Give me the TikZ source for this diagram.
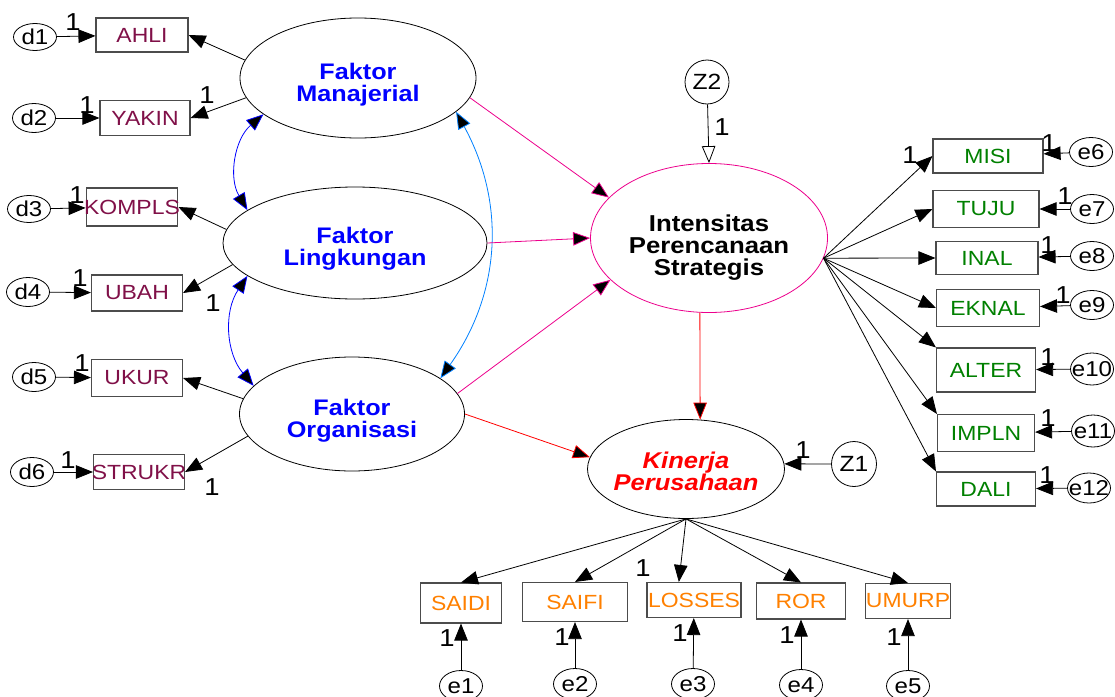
\documentclass[tikz,border=0pt]{standalone}
\usepackage{fontspec}
\setmainfont{Liberation Sans}[FakeStretch=1.12]
\usetikzlibrary{arrows.meta,shapes.geometric}
\definecolor{indleft}{RGB}{128,16,72}
\definecolor{indright}{RGB}{0,128,0}
\definecolor{indbottom}{RGB}{255,128,0}
\definecolor{covlight}{RGB}{0,128,255}
\tikzset{
  obs/.style={draw=black!70,line width=1.1pt,inner xsep=-2pt,inner ysep=0pt,font=\fontsize{20.5}{21}\selectfont},
  lat/.style={ellipse,draw,line width=0.8pt,inner sep=0pt,align=center,font=\fontsize{22.5}{21.5}\selectfont\bfseries},
  err/.style={ellipse,draw,line width=0.8pt,inner xsep=-7pt,inner ysep=-1pt,minimum width=43pt,minimum height=29pt,font=\fontsize{21.5}{21}\selectfont},
  res/.style={circle,draw,line width=0.8pt,inner sep=0pt,minimum size=44pt,font=\fontsize{22}{22}\selectfont},
  one/.style={inner sep=0pt,font=\fontsize{24.5}{24}\selectfont},
  path/.style={line width=0.8pt,-{Triangle[fill=black,length=17pt,width=13.5pt]}},
  cov/.style={line width=0.8pt,{Triangle[fill=black,length=17pt,width=13.5pt]}-{Triangle[fill=black,length=17pt,width=13.5pt]}}
}
\begin{document}
\begin{tikzpicture}[x=1pt,y=1pt]
\useasboundingbox (0,0) rectangle (1115,-696);

\node[lat,minimum width=236pt,minimum height=120pt,text=blue] (man) at (358,-78) {\rule{0pt}{30pt}Faktor\\Manajerial};
\node[lat,minimum width=264pt,minimum height=112pt,text=blue] (ling) at (355,-243) {\rule{0pt}{28pt}Faktor\\Lingkungan};
\node[lat,minimum width=225pt,minimum height=114pt,text=blue] (org) at (352,-414) {\rule{0pt}{30pt}Faktor\\Organisasi};
\node[lat,draw=magenta,minimum width=237pt,minimum height=149pt,font=\fontsize{23}{22}\selectfont\bfseries] (int) at (709,-238) {\rule{0pt}{35pt}Intensitas\\Perencanaan\\Strategis};
\node[lat,inner xsep=-5pt,minimum width=197pt,minimum height=99pt,text=red,font=\fontsize{22.8}{22}\selectfont\bfseries\itshape] (kin) at (686,-469) {\rule{0pt}{21pt}Kinerja\\Perusahaan};
\node[res] (z2) at (707,-82) {Z2};
\node[res,minimum size=45pt] (z1) at (854,-464) {Z1};

\node[obs,text=indleft,minimum width=92pt,minimum height=34pt] (ahli) at (142,-35) {AHLI};
\node[obs,text=indleft,minimum width=90pt,minimum height=35pt] (yakin) at (145,-118) {YAKIN};
\node[obs,text=indleft,minimum width=91pt,minimum height=38pt] (kompls) at (132,-207) {KOMPLS};
\node[obs,text=indleft,minimum width=91pt,minimum height=36pt] (ubah) at (137,-293) {UBAH};
\node[obs,text=indleft,minimum width=91pt,minimum height=37pt] (ukur) at (137,-378) {UKUR};
\node[obs,text=indleft,minimum width=91pt,minimum height=35pt] (strukr) at (139,-472) {STRUKR};

\node[err,minimum height=27pt] (d1) at (35,-37) {d1};
\node[err] (d2) at (34,-118) {d2};
\node[err,minimum height=27pt] (d3) at (29,-209) {d3};
\node[err] (d4) at (28,-292) {d4};
\node[err] (d5) at (34,-377) {d5};
\node[err] (d6) at (32,-472) {d6};

\node[obs,text=indright,minimum width=110pt,minimum height=34pt] (misi) at (988,-156) {MISI};
\node[obs,text=indright,minimum width=106pt,minimum height=37pt] (tuju) at (986,-209) {TUJU};
\node[obs,text=indright,minimum width=102pt,minimum height=33pt] (inal) at (987,-258) {INAL};
\node[obs,text=indright,minimum width=103pt,minimum height=37pt] (eknal) at (988,-308) {EKNAL};
\node[obs,text=indright,minimum width=99pt,minimum height=44pt] (alter) at (986,-370) {ALTER};
\node[obs,text=indright,minimum width=97pt,minimum height=37pt] (impln) at (986,-433) {IMPLN};
\node[obs,text=indright,minimum width=99pt,minimum height=34pt] (dali) at (986,-489) {DALI};

\node[err] (e6) at (1091,-152) {e6};
\node[err] (e7) at (1092,-209) {e7};
\node[err] (e8) at (1092,-256) {e8};
\node[err] (e9) at (1092,-305) {e9};
\node[err,minimum height=32pt] (e10) at (1092,-369) {e10};
\node[err,minimum height=32pt] (e11) at (1093,-431) {e11};
\node[err,minimum height=30pt] (e12) at (1089,-488) {e12};

\node[obs,text=indbottom,minimum width=81pt,minimum height=40pt] (saidi) at (461,-603) {SAIDI};
\node[obs,text=indbottom,minimum width=105pt,minimum height=39pt] (saifi) at (575,-602) {SAIFI};
\node[obs,text=indbottom,minimum width=94pt,minimum height=35pt] (losses) at (694,-600) {LOSSES};
\node[obs,text=indbottom,minimum width=89pt,minimum height=36pt] (ror) at (801,-601) {ROR};
\node[obs,text=indbottom,minimum width=85pt,minimum height=35pt] (umurp) at (908,-601) {UMURP};

\node[err,minimum height=31pt] (e1) at (461,-686) {e1};
\node[err,minimum height=31pt] (e2) at (575,-684) {e2};
\node[err,minimum height=31pt] (e3) at (693,-684) {e3};
\node[err,minimum height=31pt] (e4) at (801,-685) {e4};
\node[err,minimum height=31pt] (e5) at (908,-686) {e5};

\draw[path] (d1) -- (ahli);
\draw[path] (d2) -- (yakin);
\draw[path] (d3) -- (kompls);
\draw[path] (d4) -- (ubah);
\draw[path] (d5) -- (ukur);
\draw[path] (d6) -- (strukr);

\draw[path] (man.171) -- (ahli.east);
\draw[path] (man.190) -- (yakin.east);
\draw[path] (ling.174) -- (kompls.east);
\draw[path] (ling.190) -- (ubah.east);
\draw[path] (org.172) -- (ukur.east);
\draw[path] (org.192) -- (strukr.east);

\draw[cov,blue] (man.201) to[bend right=40] (ling.163);
\draw[cov,blue] (ling.197) to[bend right=37] (org.164);
\draw[cov,covlight] (man.-19) to[bend left=32] (org.22);

\draw[path,magenta] (man.-10) -- (int.158);
\draw[path,magenta] (ling.east) -- (int.west);
\draw[path,magenta] (org.11) -- (int.203);
\draw[path,red] (org.east) -- (kin.173);
\draw[path,red] (int.263) -- (kin.74);
\draw[line width=0.8pt,-{Triangle[open,fill=white,length=17pt,width=13.5pt]}] (z2) -- (int.north);
\draw[path] (z1) -- (kin.3);

\draw[path] (int.-10) -- (misi.west);
\draw[path] (int.-10) -- (tuju.west);
\draw[path] (int.-10) -- (inal.west);
\draw[path] (int.-10) -- (eknal.west);
\draw[path] (int.-10) -- (alter.north west);
\draw[path] (int.-10) -- (impln.north west);
\draw[path] (int.-10) -- (dali.north west);

\draw[path] (e6) -- (misi);
\draw[path] (e7) -- (tuju);
\draw[path] (e8) -- (inal);
\draw[path] (e9) -- (eknal);
\draw[path] (e10) -- (alter);
\draw[path] (e11) -- (impln);
\draw[path] (e12) -- (dali);

\draw[path] (kin.south) -- (saidi.north);
\draw[path] (kin.south) -- (saifi.north);
\draw[path] (kin.south) -- (losses.130);
\draw[path] (kin.south) -- (ror.north);
\draw[path] (kin.south) -- (umurp.north);

\draw[path] (e1) -- (saidi);
\draw[path] (e2) -- (saifi);
\draw[path] (e3) -- (losses);
\draw[path] (e4) -- (ror);
\draw[path] (e5) -- (umurp);

\node[one] (o1) at (73,-22) {1};
\node[one] (o2) at (87,-105) {1};
\node[one] (o3) at (77,-195) {1};
\node[one] (o4) at (80,-278) {1};
\node[one] (o5) at (82,-363) {1};
\node[one] (o6) at (68,-460) {1};
\node[one] (o7) at (207,-95) {1};
\node[one] (o8) at (213,-303) {1};
\node[one] (o9) at (212,-487) {1};
\node[one] (o10) at (722,-127) {1};
\node[one] (o11) at (803,-450) {1};
\node[one] (o12) at (910,-155) {1};
\node[one] (o13) at (1049,-143) {1};
\node[one] (o14) at (1065,-196) {1};
\node[one] (o15) at (1048,-245) {1};
\node[one] (o16) at (1063,-295) {1};
\node[one] (o17) at (1048,-357) {1};
\node[one] (o18) at (1048,-418) {1};
\node[one] (o19) at (1047,-475) {1};
\node[one] (o20) at (643,-568) {1};
\node[one] (o21) at (447,-638) {1};
\node[one] (o22) at (562,-637) {1};
\node[one] (o23) at (680,-633) {1};
\node[one] (o24) at (787,-635) {1};
\node[one] (o25) at (894,-637) {1};
\end{tikzpicture}
\end{document}
